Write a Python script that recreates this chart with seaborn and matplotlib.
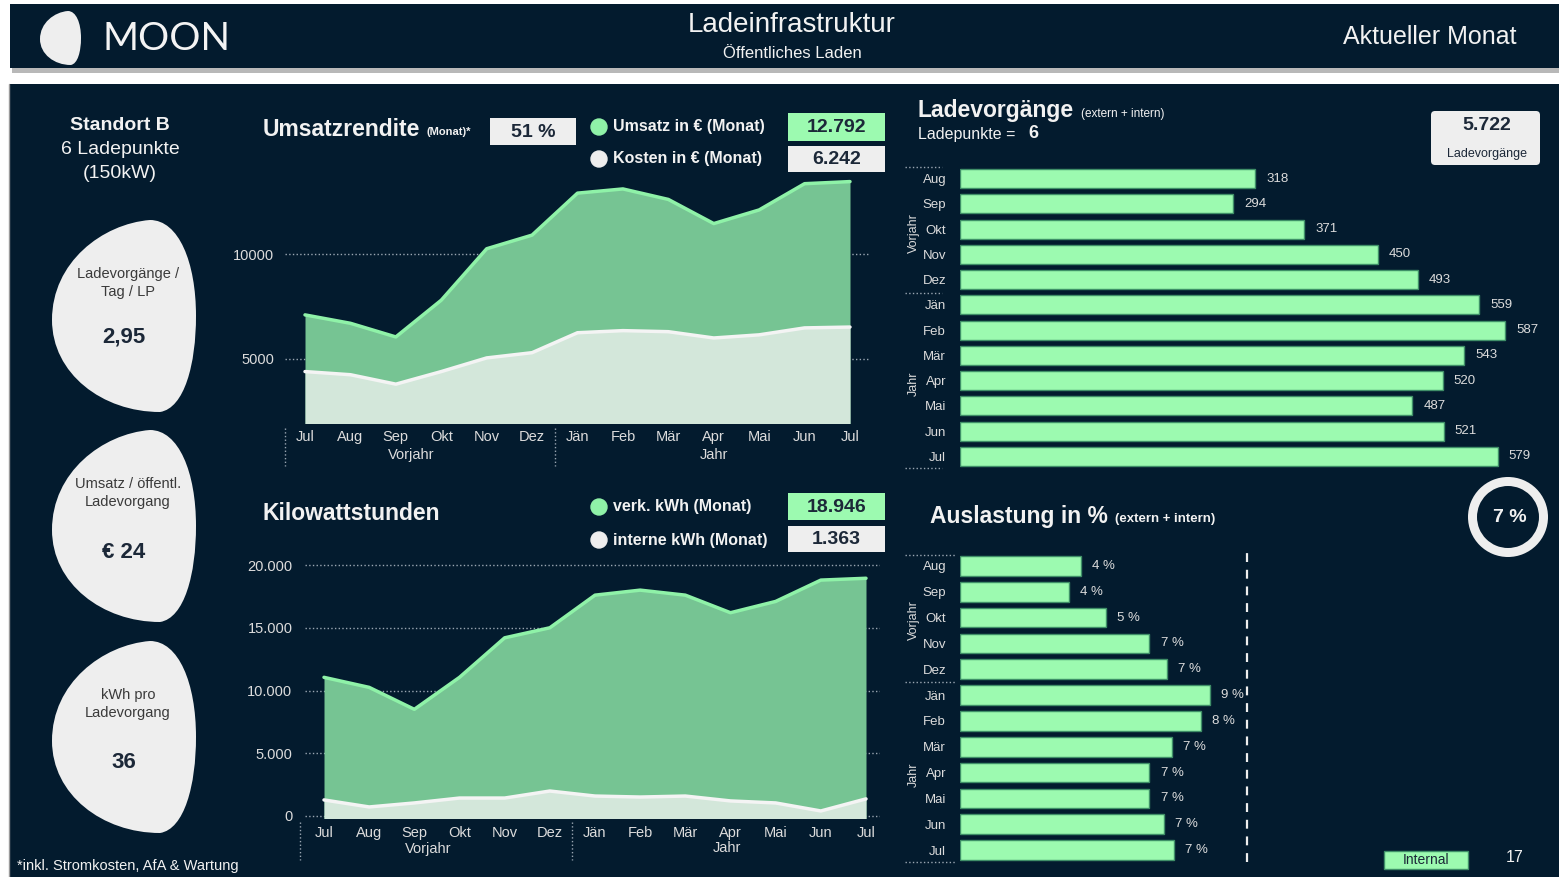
import numpy as np
import pandas as pd
import matplotlib
matplotlib.use('Agg')
import matplotlib.pyplot as plt
import seaborn as sns
from matplotlib.patches import Rectangle, FancyBboxPatch, PathPatch, Wedge, Circle
from matplotlib.path import Path

# ---- data ----
months_13 = ['Jul', 'Aug', 'Sep', 'Okt', 'Nov', 'Dez', 'Jän', 'Feb', 'Mär', 'Apr', 'Mai', 'Jun', 'Jul']
umsatz = [7100, 6700, 6050, 7800, 10250, 10900, 12900, 13100, 12600, 11450, 12100, 13350, 13450]
kosten = [4400, 4250, 3800, 4400, 5050, 5300, 6250, 6350, 6300, 6000, 6150, 6480, 6520]
kwh_verk = [11050, 10250, 8500, 11050, 14200, 15000, 17600, 18000, 17600, 16200, 17100, 18800, 18946]
kwh_intern = [1280, 720, 1040, 1430, 1430, 1990, 1590, 1510, 1590, 1200, 1040, 400, 1363]

bar_months = ['Aug', 'Sep', 'Okt', 'Nov', 'Dez', 'Jän', 'Feb', 'Mär', 'Apr', 'Mai', 'Jun', 'Jul']
ladevorgaenge = [318, 294, 371, 450, 493, 559, 587, 543, 520, 487, 521, 579]
auslastung = [4.2, 3.8, 5.1, 6.6, 7.2, 8.7, 8.4, 7.4, 6.6, 6.6, 7.1, 7.45]

umsatzrendite = '51 %'
umsatz_monat = '12.792'
kosten_monat = '6.242'
kwh_monat = '18.946'
kwh_intern_monat = '1.363'
ladevorgaenge_summe = '5.722'
auslastung_monat = '7 %'
internal_count = '17'
kpis = [('Ladevorgänge /\nTag / LP', '2,95'),
        ('Umsatz / öffentl.\nLadevorgang', '€ 24'),
        ('kWh pro\nLadevorgang', '36')]

# ---- styling ----
NAVY = '#031b2e'
WHITE = '#f2f2f2'
LIGHT = '#eeeeee'
MINT = '#9cfab0'
MINT_LINE = '#8ff2a8'
GREEN_FILL = '#76c493'
PALE_FILL = '#d3e7da'
TICK = '#dcdcdc'
GRID = '#9aa6b2'
DARK = '#1c2838'

W, H = 1559, 877
sns.set_theme(style='white')
plt.rcParams['font.family'] = ['Liberation Sans', 'DejaVu Sans']

fig = plt.figure(figsize=(W / 100, H / 100), dpi=100)
fig.patch.set_facecolor('white')

# background canvas in pixel coords (y down)
bg = fig.add_axes([0, 0, 1, 1])
bg.set_xlim(0, W)
bg.set_ylim(H, 0)
bg.axis('off')


def add_ax(x0, y0, x1, y1):
    ax = fig.add_axes([x0 / W, 1 - y1 / H, (x1 - x0) / W, (y1 - y0) / H])
    ax.set_facecolor('none')
    for s in ax.spines.values():
        s.set_visible(False)
    return ax


def txt(x, y, s, size, color=WHITE, weight='normal', ha='left', va='center', **kw):
    bg.text(x, y, s, fontsize=size, color=color, fontweight=weight, ha=ha, va=va, **kw)


def box(x0, y0, x1, y1, color, s, size=14):
    bg.add_patch(Rectangle((x0, y0), x1 - x0, y1 - y0, color=color, lw=0))
    txt((x0 + x1) / 2, (y0 + y1) / 2 + 1, s, size, color=DARK, weight='bold', ha='center')


def blob(x0, y0, w, h, color):
    pts = [(0.68, 0), (0.35, 0.02), (0, 0.22), (0, 0.52), (0, 0.8), (0.35, 1.0), (0.75, 1.0),
           (0.92, 0.98), (1, 0.75), (1, 0.5), (1, 0.22), (0.88, 0.0), (0.68, 0), (0.68, 0)]
    codes = [Path.MOVETO] + [Path.CURVE4] * 12 + [Path.CLOSEPOLY]
    verts = [(x0 + px * w, y0 + py * h) for px, py in pts]
    bg.add_patch(PathPatch(Path(verts, codes), facecolor=color, lw=0))


def dotted(x0, y0, x1, y1):
    bg.plot([x0, x1], [y0, y1], ls=':', color=GRID, lw=1)


# header + panels
bg.add_patch(Rectangle((10, 4), W - 10, 64, color=NAVY, lw=0))
bg.add_patch(Rectangle((12, 68), W - 12, 5, color='#b8b8b8', lw=0))
bg.add_patch(Rectangle((10, 84), W - 10, H - 84, color=NAVY, lw=0))
bg.plot([9, 9], [84, H], color='#9a9a9a', lw=1)

blob(40, 11, 41, 54, LIGHT)
txt(103, 39, 'MOON', 28, color='#f4f4f4', family=['Lato', 'DejaVu Sans'], weight='normal')
txt(792, 25, 'Ladeinfrastruktur', 20, ha='center')
txt(792, 54, 'Öffentliches Laden', 12, ha='center')
txt(1430, 37, 'Aktueller Monat', 18, ha='center')

# left column
txt(120, 125, 'Standort B', 14, weight='bold', ha='center')
txt(120, 150, '6 Ladepunkte', 14, ha='center')
txt(120, 174, '(150kW)', 14, ha='center')
for (label, value), top, voff in zip(kpis, [220, 430, 641], [117, 123, 121]):
    blob(52, top, 144, 192, LIGHT)
    txt(128, top + 63, label, 10.5, color='#3a3a3a', ha='center', linespacing=1.35)
    txt(124, top + voff, value, 16, color=DARK, weight='bold', ha='center')
txt(17, 866, '*inkl. Stromkosten, AfA & Wartung', 10.5)

# ---- Umsatzrendite area chart ----
x13 = np.arange(len(months_13))
df_u = pd.DataFrame({'idx': x13, 'umsatz': umsatz, 'kosten': kosten})
u = 545 / 12
ax1 = add_ax(285, 165, 870, 423)
ax1.set_xlim(-20 / u, 12 + 20 / u)
ax1.set_ylim(1950, 14240)
ax1.fill_between(df_u['idx'], df_u['umsatz'], 0, color=GREEN_FILL, lw=0)
ax1.fill_between(df_u['idx'], df_u['kosten'], 0, color=PALE_FILL, lw=0)
sns.lineplot(data=df_u, x='idx', y='umsatz', color=MINT_LINE, lw=2.5, ax=ax1)
sns.lineplot(data=df_u, x='idx', y='kosten', color='#f4f4f4', lw=2.5, ax=ax1)
ax1.set_yticks([5000, 10000])
ax1.set_yticklabels(['5000', '10000'])
ax1.yaxis.grid(True, ls=':', color=GRID, lw=1)
ax1.xaxis.grid(False)
ax1.set_xticks(x13)
ax1.set_xticklabels(months_13)
ax1.tick_params(axis='both', length=0, colors=TICK, labelsize=10.5)
ax1.tick_params(axis='x', pad=5)
ax1.tick_params(axis='y', pad=8)
ax1.set_xlabel('')
ax1.set_ylabel('')
dotted(285, 428, 285, 466)
dotted(555, 428, 555, 466)
txt(411, 455, 'Vorjahr', 10.5, color=TICK, ha='center')
txt(714, 455, 'Jahr', 10.5, color=TICK, ha='center')

txt(263, 129, 'Umsatzrendite', 16.5, weight='bold')
txt(427, 132, '(Monat)*', 8, weight='bold')
box(490, 118, 576, 145, LIGHT, umsatzrendite, 14)
bg.add_patch(Circle((599, 127), 8, color=MINT_LINE))
bg.add_patch(Circle((599, 159), 8, color=LIGHT))
txt(613, 127, 'Umsatz in € (Monat)', 11.5, weight='bold')
txt(613, 159, 'Kosten in € (Monat)', 11.5, weight='bold')
box(788, 113, 885, 141, MINT, umsatz_monat, 14)
box(788, 146, 885, 172, LIGHT, kosten_monat, 14)

# ---- Kilowattstunden area chart ----
df_k = pd.DataFrame({'idx': x13, 'verk': kwh_verk, 'intern': kwh_intern})
u2 = 542 / 12
ax2 = add_ax(305, 555, 880, 818)
ax2.set_xlim(-19 / u2, 12 + 14 / u2)
ax2.set_ylim(-160, 20800)
ax2.fill_between(df_k['idx'], df_k['verk'], -500, color=GREEN_FILL, lw=0)
ax2.fill_between(df_k['idx'], df_k['intern'], -500, color=PALE_FILL, lw=0)
sns.lineplot(data=df_k, x='idx', y='verk', color=MINT_LINE, lw=2.5, ax=ax2)
sns.lineplot(data=df_k, x='idx', y='intern', color='#f4f4f4', lw=2.5, ax=ax2)
yt = [0, 5000, 10000, 15000, 20000]
ax2.set_yticks(yt)
ax2.set_yticklabels([f'{v:,}'.replace(',', '.') for v in yt])
ax2.yaxis.grid(True, ls=':', color=GRID, lw=1)
ax2.xaxis.grid(False)
ax2.set_xticks(x13)
ax2.set_xticklabels(months_13)
ax2.tick_params(axis='both', length=0, colors=TICK, labelsize=10.5)
ax2.tick_params(axis='x', pad=6)
ax2.tick_params(axis='y', pad=9)
ax2.set_xlabel('')
ax2.set_ylabel('')
dotted(300, 822, 300, 860)
dotted(572, 822, 572, 860)
txt(428, 849, 'Vorjahr', 10.5, color=TICK, ha='center')
txt(727, 848, 'Jahr', 10.5, color=TICK, ha='center')

txt(263, 513, 'Kilowattstunden', 16.5, weight='bold')
bg.add_patch(Circle((599, 507), 8, color=MINT_LINE))
bg.add_patch(Circle((599, 540), 8, color=LIGHT))
txt(613, 507, 'verk. kWh (Monat)', 11.5, weight='bold')
txt(613, 540, 'interne kWh (Monat)', 11.5, weight='bold')
box(788, 493, 885, 520, MINT, kwh_monat, 14)
box(788, 526, 885, 552, LIGHT, kwh_intern_monat, 14)

# ---- Ladevorgänge bars ----
df_l = pd.DataFrame({'monat': bar_months, 'anzahl': ladevorgaenge})
ax3 = add_ax(960, 166, 1545, 469)
sns.barplot(data=df_l, x='anzahl', y='monat', orient='h', color=MINT, saturation=1,
            edgecolor='#3f8f68', linewidth=1, width=0.76, ax=ax3)
ax3.set_xlim(0, 585 / (545 / 587))
ax3.bar_label(ax3.containers[0], padding=8, color=TICK, fontsize=9.5)
ax3.set_xticks([])
ax3.tick_params(axis='y', length=0, colors=TICK, labelsize=9.5, pad=10)
ax3.set_xlabel('')
ax3.set_ylabel('')
dotted(905, 167, 942, 167)
dotted(905, 293, 942, 293)
dotted(905, 468, 942, 468)
txt(914, 233, 'Vorjahr', 9, color=TICK, ha='center', rotation=90)
txt(914, 384, 'Jahr', 9, color=TICK, ha='center', rotation=90)

txt(918, 111, 'Ladevorgänge', 16.5, weight='bold')
txt(1081, 114, '(extern + intern)', 8.5)
txt(918, 134, 'Ladepunkte =', 11.5)
txt(1028, 133, '6', 13, weight='bold')
bg.add_patch(FancyBboxPatch((1431, 111), 109, 54, boxstyle='round,pad=0,rounding_size=4',
                            color=LIGHT, lw=0))
txt(1487, 126, ladevorgaenge_summe, 14, color=DARK, weight='bold', ha='center')
txt(1487, 154, 'Ladevorgänge', 9, color=DARK, ha='center')

# ---- Auslastung bars ----
df_a = pd.DataFrame({'monat': bar_months, 'prozent': auslastung})
ax4 = add_ax(960, 553, 1262, 863)
sns.barplot(data=df_a, x='prozent', y='monat', orient='h', color=MINT, saturation=1,
            edgecolor='#3f8f68', linewidth=1, width=0.76, ax=ax4)
ax4.set_xlim(0, 302 / 28.7)
ax4.bar_label(ax4.containers[0], labels=[f'{v:.0f} %' for v in auslastung],
              padding=8, color=TICK, fontsize=9.5)
ax4.axvline(10, ymin=0.003, ymax=1.016, ls=(0, (4, 3.5)), color=LIGHT, lw=1.6, clip_on=False)
ax4.set_xticks([])
ax4.tick_params(axis='y', length=0, colors=TICK, labelsize=9.5, pad=10)
ax4.set_xlabel('')
ax4.set_ylabel('')
dotted(905, 555, 955, 555)
dotted(905, 682, 955, 682)
dotted(905, 862, 955, 862)
txt(914, 620, 'Vorjahr', 9, color=TICK, ha='center', rotation=90)
txt(914, 775, 'Jahr', 9, color=TICK, ha='center', rotation=90)

txt(930, 517, 'Auslastung in %', 16.5, weight='bold')
txt(1115, 519, '(extern + intern)', 9.5, weight='bold')
bg.add_patch(Wedge((1508, 517), 40, 0, 360, width=9, color=LIGHT, lw=0))
txt(1510, 517, auslastung_monat, 14, weight='bold', ha='center')

bg.add_patch(Rectangle((1384, 851), 84, 18, facecolor=MINT, edgecolor='#3f8f68', lw=1))
txt(1426, 860, 'Internal', 10, color=DARK, ha='center')
txt(1515, 858, internal_count, 11.5, ha='center')

fig.savefig('out.png', dpi=100, facecolor=fig.get_facecolor())
